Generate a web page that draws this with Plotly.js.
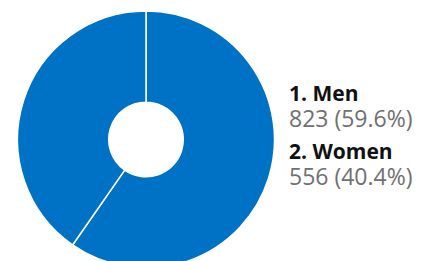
<!DOCTYPE html>
<html>
<head>
<meta charset="utf-8">
<script src="https://cdn.plot.ly/plotly-3.0.1.min.js"></script>
<style>
html,body{margin:0;padding:0;overflow:hidden;background:#fff;}
#chart{width:431px;height:270px;}
</style>
</head>
<body>
<div id="chart"></div>
<script>
const categories = ["Men", "Women"];
const counts = [823, 556];
const percents = [59.6, 40.4];
const sliceColor = "#0072C6";

const trace = {
  type: "pie",
  labels: categories,
  values: counts,
  sort: false,
  direction: "clockwise",
  rotation: 0,
  hole: 0.29,
  textinfo: "none",
  hoverinfo: "none",
  showlegend: false,
  marker: {colors: categories.map(() => sliceColor), line: {color: "#ffffff", width: 1.5}},
  domain: {x: [17.5/431, 274.5/431], y: [1 - 268/270, 1 - 11/270]}
};

const annotations = [];
const topY = [77, 135];
categories.forEach((c, i) => {
  annotations.push({
    xref: "paper", yref: "paper", x: 287/431, y: 1 - topY[i] / 270,
    xanchor: "left", yanchor: "top", align: "left", showarrow: false,
    text: "<span style='font-size:21px'><b>" + (i + 1) + ". " + c + "</b></span><br>" +
          "<span style='font-size:23px;color:#707070'>" + counts[i] + " (" + percents[i].toFixed(1) + "%)</span>",
    font: {family: "Open Sans", size: 20, color: "#111111"}
  });
});

const layout = {
  width: 431, height: 270,
  margin: {l: 0, r: 0, t: 0, b: 0},
  paper_bgcolor: "#ffffff",
  annotations: annotations
};

Plotly.newPlot("chart", [trace], layout, {displayModeBar: false, staticPlot: true});
</script>
</body>
</html>
